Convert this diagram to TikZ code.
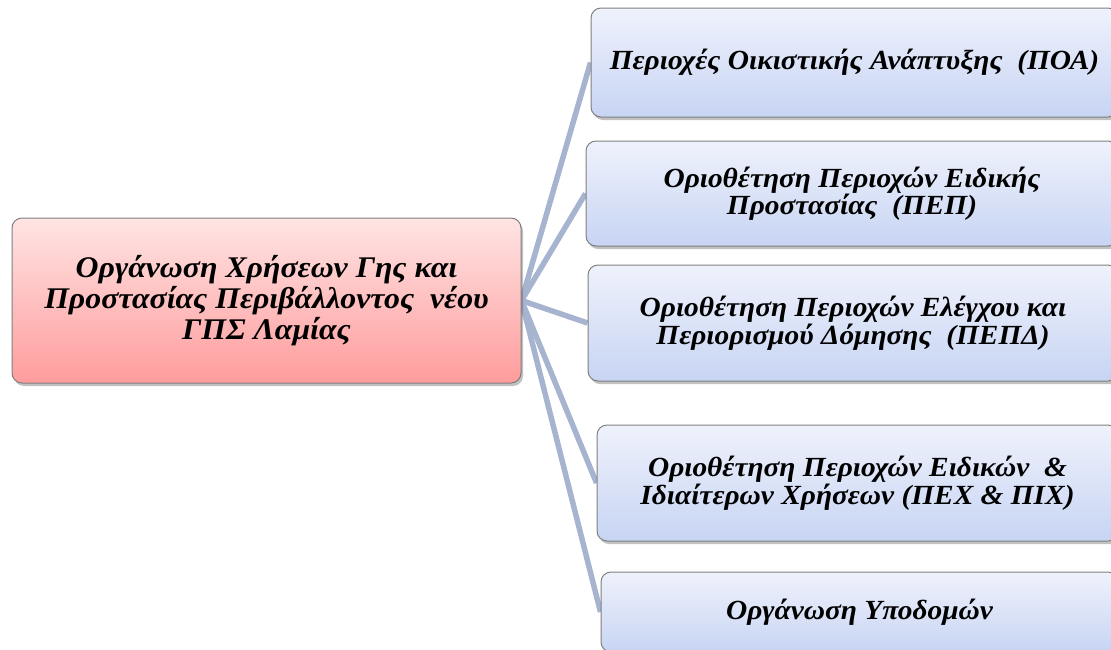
\documentclass[tikz,border=0pt]{standalone}
\usepackage{fontspec}
\setmainfont{Liberation Serif}
\newfontfamily\wideserif[FakeStretch=1.06]{Liberation Serif}
\usetikzlibrary{shadows,backgrounds}
\definecolor{linkc}{HTML}{A7B4CF}
\definecolor{btop}{HTML}{EFF2FC}
\definecolor{bbot}{HTML}{C7D4F3}
\definecolor{rtop}{HTML}{FFE4E4}
\definecolor{rbot}{HTML}{FF9C9C}
\definecolor{edgec}{HTML}{7F7F7F}
\tikzset{
  box/.style={draw=edgec, line width=1pt, rounded corners=10pt, inner sep=0pt,
    align=center, font=\wideserif\bfseries\itshape\fontsize{27.7}{27.5}\selectfont,
    top color=btop, bottom color=bbot,
    drop shadow={shadow xshift=2pt, shadow yshift=-3pt, opacity=0.35, fill=black!70}},
  rootbox/.style={box, top color=rtop, bottom color=rbot,
    font=\wideserif\bfseries\itshape\fontsize{30}{31}\selectfont},
  link/.style={draw=linkc, line width=5.5pt}
}
\begin{document}
\begin{tikzpicture}[x=1pt,y=-1pt]
\useasboundingbox (0,0) rectangle (1111,649);
\node[rootbox, minimum width=509pt, minimum height=165pt] (root) at (266.5,300.5)
  {Οργάνωση Χρήσεων Γης και\\Προστασίας Περιβάλλοντος~~νέου\\ΓΠΣ Λαμίας};
\node[box, minimum width=527pt, minimum height=109pt] (b1) at (854.5,62.5)
  {Περιοχές Οικιστικής Ανάπτυξης~~(ΠΟΑ)};
\node[box, minimum width=532pt, minimum height=105pt] (b2) at (852,193.5)
  {Οριοθέτηση Περιοχών Ειδικής\\Προστασίας~~(ΠΕΠ)};
\node[box, minimum width=530pt, minimum height=116pt] (b3) at (853,323)
  {Οριοθέτηση Περιοχών Ελέγχου και\\Περιορισμού Δόμησης~~(ΠΕΠΔ)};
\node[box, minimum width=521pt, minimum height=116pt] (b4) at (857.5,483)
  {Οριοθέτηση Περιοχών Ειδικών~~\&\\Ιδιαίτερων Χρήσεων (ΠΕΧ \& ΠΙΧ)};
\node[box, minimum width=517pt, minimum height=80pt] (b5) at (859.5,612)
  {Οργάνωση Υποδομών};
\begin{pgfonlayer}{background}
\foreach \b in {b1,b2,b3,b4,b5}
  \draw[link] (root.east) -- (\b.west);
\end{pgfonlayer}
\end{tikzpicture}
\end{document}
